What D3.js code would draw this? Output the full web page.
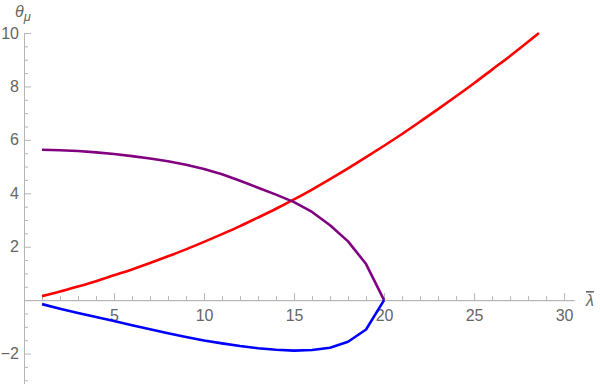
<!DOCTYPE html>
<html>
<head>
<meta charset="utf-8">
<script src="https://cdn.jsdelivr.net/npm/d3@7"></script>
<style>
  body { margin: 0; background: #fff; }
  text { font-family: "Liberation Sans", Arial, sans-serif; fill: #666; }
</style>
</head>
<body>
<div id="chart"></div>
<script>
const wh = 600,
    ht = 384;

// lambda values
const lamRed = [1,2,3,4,5,6,7,8,9,10,11,12,13,14,15,16,17,18,19,20,21,22,23,24,25,26,27,28,28.6];
const thetaRed = [0.15,0.32,0.51,0.71,0.93,1.15,1.39,1.64,1.90,2.18,2.47,2.77,3.09,3.42,3.77,4.14,4.53,4.93,5.35,5.78,6.22,6.68,7.15,7.63,8.12,8.63,9.14,9.67,10.0];

const lamLow = [1,2,3,4,5,6,7,8,9,10,11,12,13,14,15,16,17,18,19,20];
const thetaPurple = [5.63,5.61,5.58,5.53,5.47,5.39,5.30,5.20,5.07,4.91,4.71,4.47,4.21,3.95,3.67,3.30,2.80,2.20,1.35,0];
const thetaBlue = [-0.15,-0.32,-0.48,-0.63,-0.78,-0.94,-1.09,-1.24,-1.38,-1.51,-1.62,-1.72,-1.80,-1.86,-1.89,-1.87,-1.78,-1.56,-1.10,0];

const xMajor = [5,10,15,20,25,30];
const yMajor = [-2,2,4,6,8,10];

const svg = d3.select("#chart")
    .append("svg")
    .attr("width", wh)
    .attr("height", ht)

var x = d3.scaleLinear()
        .domain([0, 30.55])
        .range([24, 574])

var y = d3.scaleLinear()
        .domain([-3.14, 10])
        .range([384, 33])

var xMinor = d3.range(1, 31).filter(function(d){ return d % 5 != 0 })
var yMinor = d3.range(-6, 21).map(function(d){ return d / 2 }).filter(function(d){ return d % 2 != 0 })

function styleAxis(g) {
    g.select(".domain").attr("stroke", "#b5b5b5").attr("stroke-width", 1)
    g.selectAll(".tick line").attr("stroke", "#b5b5b5")
    g.selectAll(".tick text").style("font-size", "16px").attr("fill", "#666")
}

// x axis (ticks pointing up)
svg.append("g")
    .attr("transform", "translate(0," + y(0) + ")")
    .call(d3.axisBottom(x).tickValues(xMinor).tickSizeInner(-4).tickSizeOuter(0).tickFormat(""))
    .call(styleAxis)

svg.append("g")
    .attr("transform", "translate(0," + y(0) + ")")
    .call(d3.axisBottom(x).tickValues(xMajor).tickSizeInner(-7).tickSizeOuter(0).tickPadding(10))
    .call(styleAxis)

// y axis (ticks pointing right)
svg.append("g")
    .attr("transform", "translate(" + x(0) + ",0)")
    .call(d3.axisLeft(y).tickValues(yMinor).tickSizeInner(-4).tickSizeOuter(0).tickFormat(""))
    .call(styleAxis)

svg.append("g")
    .attr("transform", "translate(" + x(0) + ",0)")
    .call(d3.axisLeft(y).tickValues(yMajor).tickSizeInner(-7).tickSizeOuter(0).tickPadding(5).tickFormat(d3.format("")))
    .call(styleAxis)
    .selectAll(".tick text").text(function(d){ return d < 0 ? "\u2212" + (-d) : d })

var line = d3.line()
    .x(function(d){ return x(d[0]) })
    .y(function(d){ return y(d[1]) })

var series = [
    { lam: lamRed, vals: thetaRed, color: "#ff0000", curve: d3.curveMonotoneX },
    { lam: lamLow, vals: thetaPurple, color: "#800080", curve: d3.curveLinear },
    { lam: lamLow, vals: thetaBlue, color: "#0000ff", curve: d3.curveLinear }
]

svg.selectAll(".curve").data(series)
    .enter()
    .append("path")
    .attr("class", "curve")
    .attr("fill", "none")
    .attr("stroke", function(d){ return d.color })
    .attr("stroke-width", 2.6)
    .attr("stroke-linejoin", "round")
    .attr("d", function(d){ return line.curve(d.curve)(d.lam.map(function(l, i){ return [l, d.vals[i]] })) })

// axis labels
var yl = svg.append("text")
    .attr("x", 15)
    .attr("y", 17)
    .style("font-size", "16px")
    .style("font-style", "italic")
yl.append("tspan").text("\u03b8")
yl.append("tspan").attr("dy", 4).style("font-size", "13px").text("\u03bc")

svg.append("text")
    .attr("x", 586)
    .attr("y", 306)
    .style("font-size", "16px")
    .style("font-style", "italic")
    .style("text-decoration", "overline")
    .text("\u03bb")
</script>
</body>
</html>
